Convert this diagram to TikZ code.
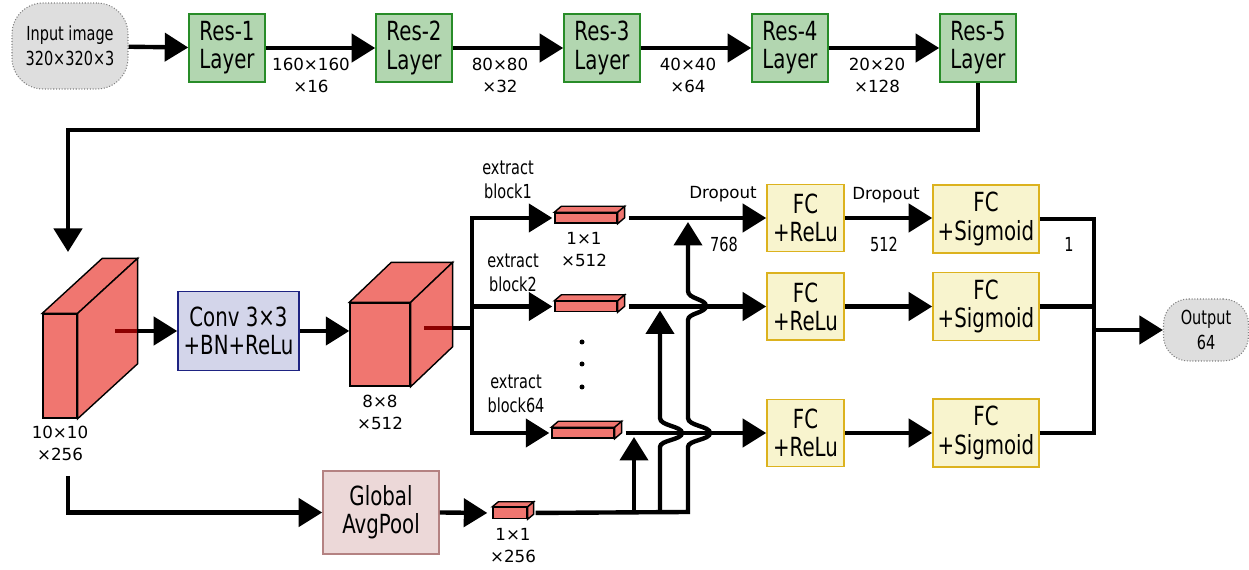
\documentclass[tikz,border=0pt]{standalone}
\usepackage{fontspec}
\setmainfont{DejaVu Sans}
\newfontfamily\cnd[FakeStretch=0.75]{DejaVu Sans}
\usetikzlibrary{arrows.meta}

\definecolor{resgreen}{RGB}{178,214,176}
\definecolor{resedge}{RGB}{40,140,40}
\definecolor{cubered}{RGB}{240,118,112}
\definecolor{stubred}{RGB}{140,0,0}
\definecolor{convblue}{RGB}{211,213,234}
\definecolor{convedge}{RGB}{30,35,130}
\definecolor{poolpink}{RGB}{236,216,216}
\definecolor{pooledge}{RGB}{180,130,130}
\definecolor{fcyellow}{RGB}{248,244,206}
\definecolor{fcedge}{RGB}{220,178,30}
\definecolor{iogray}{RGB}{222,222,222}

% top and side faces of a box whose front face is node #1
\newcommand{\cubefaces}[3]{%
  \filldraw[cubeface] (#1.north west) -- ++(#2,#3) -- ([shift={(#2,#3)}]#1.north east) -- (#1.north east) -- cycle;
  \filldraw[cubeface] (#1.north east) -- ([shift={(#2,#3)}]#1.north east) -- ([shift={(#2,#3)}]#1.south east) -- (#1.south east) -- cycle;}

\begin{document}
\begin{tikzpicture}[
	x=0.02cm, y=-0.02cm,
	line width=2.5pt,
	arr/.style={-{Triangle[length=0.47cm,width=0.56cm]}},
	boxtxt/.style={align=center, inner sep=0pt, line width=0.9pt, font=\cnd\fontsize{15}{16}\selectfont},
	reslayer/.style={boxtxt, draw=resedge, fill=resgreen, minimum width=1.52cm, minimum height=1.36cm},
	convbox/.style={boxtxt, draw=convedge, fill=convblue, minimum width=2.42cm, minimum height=1.58cm},
	poolbox/.style={boxtxt, draw=pooledge, fill=poolpink, minimum width=2.32cm, minimum height=1.66cm},
	fcrelu/.style={boxtxt, draw=fcedge, fill=fcyellow, minimum width=1.54cm, minimum height=1.34cm},
	fcsig/.style={fcrelu, minimum width=2.12cm, minimum height=1.36cm},
	iobox/.style={align=center, draw=gray, densely dotted, line width=0.6pt, fill=iogray, inner sep=0pt, font=\cnd\fontsize{11}{14}\selectfont},
	cubeface/.style={draw=black, fill=cubered, line width=0.8pt, inner sep=0pt},
	dimlab/.style={align=center, inner sep=0pt, font=\fontsize{9.5}{12.5}\selectfont},
	smalllab/.style={align=center, inner sep=0pt, font=\cnd\fontsize{11}{14}\selectfont},
	stub/.style={draw=stubred, line width=2.5pt}
	]
	\useasboundingbox (0,0) rectangle (1249,570);
	
	% Backbone
	\node[iobox, minimum width=2.32cm, minimum height=1.72cm, rounded corners=0.62cm] (input) at (70,46) {Input image\\320×320×3};
	\node[reslayer] (res1) at (227,48) {Res-1\\Layer};
	\node[reslayer] (res2) at (414,48) {Res-2\\Layer};
	\node[reslayer] (res3) at (602,48) {Res-3\\Layer};
	\node[reslayer] (res4) at (790,48) {Res-4\\Layer};
	\node[reslayer] (res5) at (978,48) {Res-5\\Layer};
	
	\draw[arr] (input) -- (res1);
	\draw[arr] (res1) -- (res2);
	\draw[arr] (res2) -- (res3);
	\draw[arr] (res3) -- (res4);
	\draw[arr] (res4) -- (res5);
	
	\node[dimlab] (d1) at (311,75) {160×160\\×16};
	\node[dimlab] (d2) at (500,75) {80×80\\×32};
	\node[dimlab] (d3) at (688,75) {40×40\\×64};
	\node[dimlab] (d4) at (877,75) {20×20\\×128};
	
	% Feature maps
	\node[cubeface, minimum width=0.68cm, minimum height=2.08cm] (cube1) at (60,366) {};
	\cubefaces{cube1}{60}{-55}
	\node[cubeface, minimum width=1.2cm, minimum height=1.66cm] (cube2) at (380,344.5) {};
	\cubefaces{cube2}{42}{-40}
	\node[dimlab] (d5) at (60,443) {10×10\\×256};
	\node[dimlab] (d6) at (380,412) {8×8\\×512};
	
	\coordinate (c1top) at (68,252);
	\draw[arr] (res5.south) -- ++(0,47) -| (c1top);
	
	\node[convbox] (conv) at (238.5,331) {Conv 3×3\\+BN+ReLu};
	\coordinate (c1out) at (137,331);
	\coordinate (c2out) at (452,328);
	\coordinate (br) at (472,328);
	\draw[stub] (c1out) -- ++(-22,0);
	\draw[arr] (c1out) -- (conv.west);
	\draw[arr] (conv.east) -- (conv.east -| cube2.west);
	\draw[stub] (c2out) -- ++(-28,0);
	\draw (c2out) -- (br);
	
	% Extracted blocks
	\node[cubeface, minimum width=1.24cm, minimum height=0.2cm] (blk1) at (586,218) {};
	\cubefaces{blk1}{7}{-6}
	\node[cubeface, minimum width=1.24cm, minimum height=0.2cm] (blk2) at (586,306.5) {};
	\cubefaces{blk2}{7}{-6}
	\node[cubeface, minimum width=1.24cm, minimum height=0.2cm] (blk64) at (583,433) {};
	\cubefaces{blk64}{7}{-6}
	\foreach \b in {blk1,blk2,blk64}
		\draw[arr, shorten >=0.04cm] (br) |- (\b.west);
	\foreach \yy in {342,364,387}
		\fill (582,\yy) circle[radius=2.5];
	
	\node[smalllab] (e1) at (508,180) {extract\\block1};
	\node[smalllab] (e2) at (513,273) {extract\\block2};
	\node[smalllab] (e64) at (516,394) {extract\\block64};
	\node[dimlab] (d7) at (584,250) {1×1\\×512};
	
	% Global pooling branch
	\node[poolbox] (pool) at (381,512.5) {Global\\AvgPool};
	\node[cubeface, minimum width=0.68cm, minimum height=0.22cm] (blk256) at (510,513) {};
	\cubefaces{blk256}{6}{-5}
	\node[dimlab] (d8) at (513,546) {1×1\\×256};
	\coordinate (c1low) at (68,476);
	\draw[arr] (c1low) |- (pool.west);
	\draw[arr, shorten >=0.1cm] (pool.east) -- (blk256.west);
	
	% Heads
	\node[fcrelu] (fr1) at (805.5,218) {FC\\+ReLu};
	\node[fcrelu] (fr2) at (805.5,306.5) {FC\\+ReLu};
	\node[fcrelu] (fr3) at (805.5,433) {FC\\+ReLu};
	\node[fcsig] (fs1) at (986,219) {FC\\+Sigmoid};
	\node[fcsig] (fs2) at (986,306.5) {FC\\+Sigmoid};
	\node[fcsig] (fs3) at (986,433) {FC\\+Sigmoid};
	
	\draw[arr, shorten <=0.22cm] (blk1.east) -- (fr1.west);
	\draw[arr, shorten <=0.22cm] (blk2.east) -- (fr2.west);
	\draw[arr, shorten <=0.22cm] (blk64.east) -- (fr3.west);
	\draw[arr] (fr1) -- (fs1.west |- fr1);
	\draw[arr] (fr2) -- (fs2.west |- fr2);
	\draw[arr] (fr3) -- (fs3.west |- fr3);
	
	% Pooled vector joins each head, hopping over the other lines
	\coordinate (j1) at (634,512);
	\coordinate (j2) at (660,512);
	\coordinate (j3) at (688,512);
	\draw[shorten <=0.16cm, arr, shorten >=0.08cm] (blk256.east) -- (j3) -- (688,447) .. controls (688,440) and (710,440) .. (710,433) .. controls (710,426) and (688,426) .. (688,418)
		-- (688,320) .. controls (688,313) and (706,313) .. (706,306) .. controls (706,299) and (688,299) .. (688,291) -- (j3 |- fr1.west);
	\draw[arr, shorten >=0.08cm] (j2) -- (660,447) .. controls (660,440) and (682,440) .. (682,433) .. controls (682,426) and (660,426) .. (660,418) -- (j2 |- fr2.west);
	\draw[arr, shorten >=0.08cm] (j1) -- (j1 |- fr3.west);
	
	\node[dimlab] (dr1) at (723,194) {Dropout};
	\node[smalllab] (n768) at (724,244) {768};
	\node[dimlab] (dr2) at (886,195) {Dropout};
	\node[smalllab] (n512) at (884,244) {512};
	\node[smalllab] (n1) at (1069,244) {1};
	
	% Merge
	\node[iobox, minimum width=1.70cm, minimum height=1.24cm, rounded corners=0.5cm] (out) at (1206,330) {Output\\64};
	\coordinate (mg) at (1094,330);
	\draw (fs1.east) -| (mg);
	\draw (fs3.east) -| (mg);
	\draw (fs2.east) -- (fs2.east -| mg);
	\draw[arr] (mg) -- (out.west);
\end{tikzpicture}
\end{document}
